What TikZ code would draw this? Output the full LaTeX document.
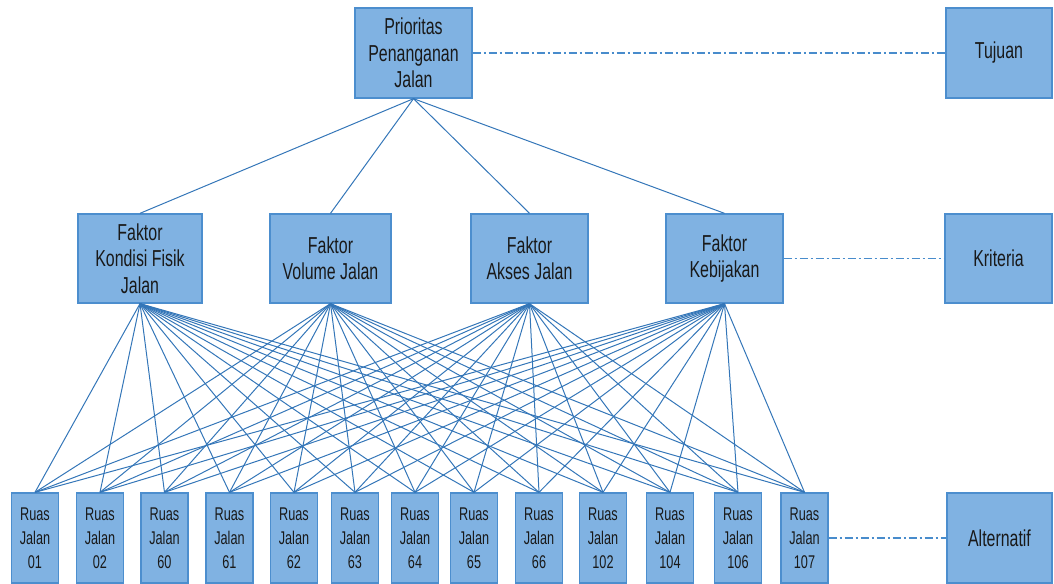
\documentclass[tikz,border=0pt]{standalone}
\usepackage{fontspec}
\setmainfont{Liberation Sans}[FakeStretch=0.69]
\definecolor{boxfill}{RGB}{128,178,226}
\definecolor{boxline}{RGB}{76,142,206}
\definecolor{conn}{RGB}{52,118,184}
\definecolor{dd}{RGB}{72,140,204}
\tikzset{
  box/.style 2 args={draw=boxline, fill=boxfill, line width=1pt, align=center, inner sep=0pt,
    minimum width=#1*0.75pt, minimum height=#2*0.75pt, text=black!90,
    font=\fontsize{17.3}{19.8}\selectfont},
  altbox/.style={box={47}{90}, font=\fontsize{13.8}{18}\selectfont},
  link/.style={draw=conn, line width=0.75pt},
  dashlink/.style={draw=dd, line width=0.9pt, dash pattern=on 6pt off 2.2pt on 1.6pt off 2.2pt}
}
\begin{document}
\begin{tikzpicture}[x=0.75pt,y=-0.75pt]
\useasboundingbox (0,0) rectangle (1054,584);
% goal
\node[box={117}{90}] (top) at (413.5,53) {Prioritas\\Penanganan\\Jalan};
\node[box={106}{90}] (tujuan) at (999,53) {Tujuan};
% criteria
\node[box={124}{89}] (k1) at (140,258.5) {Faktor\\Kondisi Fisik\\Jalan};
\node[box={121}{89}] (k2) at (330.5,258.5) {Faktor\\Volume Jalan};
\node[box={117}{89}] (k3) at (529.5,258.5) {Faktor\\Akses Jalan};
\node[box={117}{89}] (k4) at (724.5,258.5) {Faktor\\Kebijakan};
\node[box={107}{89}] (kriteria) at (998.5,258.5) {Kriteria};
% alternatives
\node[altbox] (a1) at (35,538) {Ruas\\Jalan\\01};
\node[altbox] (a2) at (100,538) {Ruas\\Jalan\\02};
\node[altbox] (a3) at (164.5,538) {Ruas\\Jalan\\60};
\node[altbox] (a4) at (229.5,538) {Ruas\\Jalan\\61};
\node[altbox] (a5) at (294,538) {Ruas\\Jalan\\62};
\node[altbox] (a6) at (355,538) {Ruas\\Jalan\\63};
\node[altbox] (a7) at (415,538) {Ruas\\Jalan\\64};
\node[altbox] (a8) at (474,538) {Ruas\\Jalan\\65};
\node[altbox] (a9) at (539,538) {Ruas\\Jalan\\66};
\node[altbox] (a10) at (603,538) {Ruas\\Jalan\\102};
\node[altbox] (a11) at (670,538) {Ruas\\Jalan\\104};
\node[altbox] (a12) at (738,538) {Ruas\\Jalan\\106};
\node[altbox] (a13) at (804.5,538) {Ruas\\Jalan\\107};
\node[box={105}{90}] (alternatif) at (999.5,538) {Alternatif};
% links
\foreach \k in {k1,k2,k3,k4} {
  \draw[link] (top.south) -- (\k.north);
  \foreach \a in {a1,a2,a3,a4,a5,a6,a7,a8,a9,a10,a11,a12,a13}
    \draw[link] (\k.south) -- (\a.north);
}
\draw[dashlink] (top.east) -- (tujuan.west);
\draw[dashlink] (k4.east) -- (kriteria.west);
\draw[dashlink] (a13.east) -- (alternatif.west);
\end{tikzpicture}
\end{document}
